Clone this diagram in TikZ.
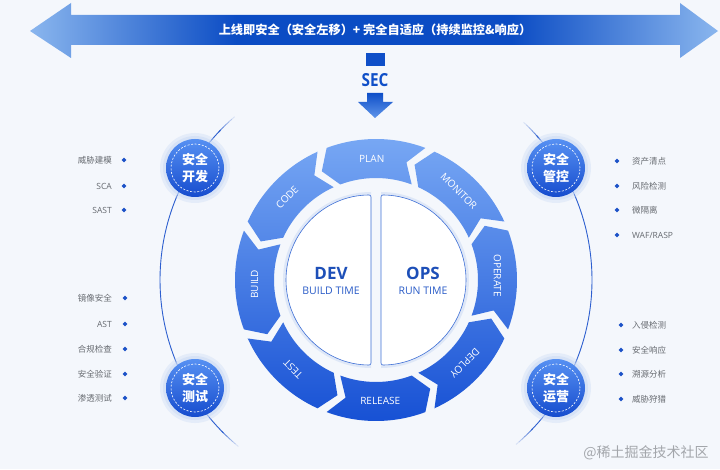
\documentclass[tikz,border=0pt]{standalone}
\usepackage{fontspec}
\setmainfont{Open Sans}
\newfontfamily\cjk{Noto Sans CJK SC}
\usetikzlibrary{shapes.geometric}
\definecolor{bg}{HTML}{F4F7FC}
\definecolor{al}{HTML}{8AB6EE}
\definecolor{ad}{HTML}{0B4CC4}
\definecolor{secblue}{HTML}{0F4FC8}
\definecolor{seclight}{HTML}{5F95EA}
\definecolor{ringtop}{HTML}{78A8F4}
\definecolor{ringbot}{HTML}{1650D4}
\definecolor{discline}{HTML}{3E6FD6}
\definecolor{devblue}{HTML}{1D4FB8}
\definecolor{timeblue}{HTML}{2A5CC8}
\definecolor{arcblue}{HTML}{2D5FCF}
\definecolor{ctop}{HTML}{5690F2}
\definecolor{cbot}{HTML}{164CCE}
\definecolor{halo}{HTML}{C9D9F4}
\definecolor{itemgray}{HTML}{666A70}
\definecolor{dia}{HTML}{1C52C8}
\definecolor{wmgray}{HTML}{A3A6AB}
\pgfdeclarehorizontalshading{toparrow}{100bp}{color(0bp)=(al); color(25bp)=(al); color(40bp)=(ad); color(60bp)=(ad); color(75bp)=(al); color(100bp)=(al)}
\tikzset{
  seglabel/.style={text=white, font=\fontsize{10}{10}\selectfont, inner sep=0pt},
  bigword/.style={text=devblue, font=\bfseries\fontsize{17}{17}\selectfont, inner sep=0pt},
  timeword/.style={text=timeblue, font=\fontsize{10.5}{10.5}\selectfont, inner sep=0pt},
  halfdisc/.style={fill=white, draw=discline, line width=0.6pt, rounded corners=2pt},
  sidecircle/.style={circle, minimum size=58pt, inner sep=0pt, top color=ctop, bottom color=cbot,
     text=white, font=\cjk\bfseries\fontsize{13}{17}\selectfont, align=center},
  dashring/.style={draw=white, line width=0.6pt, dash pattern=on 2pt off 1.6pt},
  litem/.style={text=itemgray, font=\fontsize{8.5}{8.5}\selectfont, inner sep=0pt},
  litemc/.style={text=itemgray, font=\cjk\fontsize{8.5}{8.5}\selectfont, inner sep=0pt},
  bullet/.style={diamond, fill=dia, inner sep=0pt, minimum size=5pt},
  sidearc/.style={draw=arcblue, line width=0.9pt},
}
\begin{document}
\begin{tikzpicture}[x=1pt,y=1pt]
\fill[bg] (0,0) rectangle (720,469);
\useasboundingbox (0,0) rectangle (720,469);

% top double arrow
\shade[shading=toparrow] (30,438) -- (71,466) -- (71,454) -- (680,454) -- (680,466) -- (718,438)
  -- (680,411) -- (680,424) -- (71,424) -- (71,411) -- cycle;
\node[text=white, font=\cjk\bfseries\fontsize{12.2}{12.2}\selectfont, inner sep=0pt] (banner) at (375,439)
  {上线即安全（安全左移）+ 完全自适应（持续监控\&响应）};

% SEC marker
\fill[secblue] (366,403) rectangle (385,416);
\node[text=secblue, font=\bfseries\fontsize{18}{18}\selectfont, inner sep=0pt, xscale=0.85] (sec) at (375,389) {SEC};
\shade[top color=secblue, bottom color=seclight] (367,376) -- (383,376) -- (383,367) -- (393,367)
  -- (375,351) -- (358,367) -- (367,367) -- cycle;

% side arcs
\begin{scope}[shift={(376,189)}]
  \draw[sidearc] (136:216) arc[start angle=136, end angle=225, radius=216];
  \draw[sidearc] (42:216) arc[start angle=42, end angle=-44, radius=216];
  \foreach \i in {0,...,5}{
    \pgfmathsetmacro\op{(\i+1)/7}
    \draw[sidearc, opacity=\op] ({130.9+\i}:216) arc[start angle={130.9+\i}, end angle={131.9+\i}, radius=216];
    \draw[sidearc, opacity=\op] ({230.4-\i}:216) arc[start angle={230.4-\i}, end angle={229.4-\i}, radius=216];
    \draw[sidearc, opacity=\op] ({46.9-\i}:216) arc[start angle={46.9-\i}, end angle={45.9-\i}, radius=216];
    \draw[sidearc, opacity=\op] ({-49.6+\i}:216) arc[start angle={-49.6+\i}, end angle={-48.6+\i}, radius=216];
  }
\end{scope}

% ring segments
\begin{scope}[shift={(376,189)}]
  \shade[top color=ringtop, bottom color=ringbot]
  \foreach \c [evaluate=\c as \ta using \c-20.5, evaluate=\c as \hb using \c+20.5,
               evaluate=\c as \pt using \c+26.5, evaluate=\c as \nt using \c-14.5] in {90,45,0,-45,-90,-135,180,135}
  { (\ta:141) arc[start angle=\ta, end angle=\hb, radius=141] -- (\pt:121.5) -- (\hb:102)
    arc[start angle=\hb, end angle=\ta, radius=102] -- (\nt:121.5) -- cycle };
  \node[seglabel] (plan) at (92:121.5) {PLAN};
  \node[seglabel, rotate=-45] (monitor) at (47:121.5) {MONITOR};
  \node[seglabel, rotate=-90] (operate) at (2:121.5) {OPERATE};
  \node[seglabel, rotate=-135] (deploy) at (-43:121.5) {DEPLOY};
  \node[seglabel] (release) at (-88:121.5) {RELEASE};
  \node[seglabel, rotate=135] (test) at (-133:121.5) {TEST};
  \node[seglabel, rotate=90] (build) at (182:121.5) {BUILD};
  \node[seglabel, rotate=45] (code) at (137:121.5) {CODE};

  % centre halves
  \fill[halo, opacity=0.5] (-5,88) arc[start angle=90, end angle=270, radius=88] -- cycle;
  \fill[halo, opacity=0.5] (5,-88) arc[start angle=-90, end angle=90, radius=88] -- cycle;
  \filldraw[halfdisc] (-5,85) arc[start angle=90, end angle=270, radius=85] -- cycle;
  \filldraw[halfdisc] (5,-85) arc[start angle=-90, end angle=90, radius=85] -- cycle;
  \node[bigword] (dev) at (-45,7) {DEV};
  \node[timeword] (bt) at (-45,-11) {BUILD TIME};
  \node[bigword] (ops) at (47,7) {OPS};
  \node[timeword] (rt) at (47,-11) {RUN TIME};
\end{scope}

% side circles
\coordinate (pkf) at (195,301);
\coordinate (pcs) at (195,81);
\coordinate (pgk) at (556,301);
\coordinate (pyy) at (556,81);
\foreach \p in {pkf,pcs,pgk,pyy}{
  \fill[halo, opacity=0.35] (\p) circle (35);
  \fill[halo, opacity=0.5] (\p) circle (32);
}
\node[sidecircle] (kaifa) at (pkf) {安全\\开发};
\node[sidecircle] (ceshi) at (pcs) {安全\\测试};
\node[sidecircle] (guankong) at (pgk) {安全\\管控};
\node[sidecircle] (yunying) at (pyy) {安全\\运营};
\draw[dashring] (kaifa.center) circle (24);
\draw[dashring] (ceshi.center) circle (24);
\draw[dashring] (guankong.center) circle (24);
\draw[dashring] (yunying.center) circle (24);

% left top list
\node[litemc, anchor=east] (a1) at (112,309) {威胁建模};
\node[litem, anchor=east] (a2) at (112,283) {SCA};
\node[litem, anchor=east] (a3) at (112,259) {SAST};
\node[bullet] (ba1) at (124,309) {};
\node[bullet] (ba2) at (124,283) {};
\node[bullet] (ba3) at (124,259) {};

% left bottom list
\node[litemc, anchor=east] (b1) at (112,171) {镜像安全};
\node[litem, anchor=east] (b2) at (112,145) {AST};
\node[litemc, anchor=east] (b3) at (112,120) {合规检查};
\node[litemc, anchor=east] (b4) at (112,95) {安全验证};
\node[litemc, anchor=east] (b5) at (112,71) {渗透测试};
\node[bullet] (bb1) at (125,171) {};
\node[bullet] (bb2) at (125,145) {};
\node[bullet] (bb3) at (125,120) {};
\node[bullet] (bb4) at (125,95) {};
\node[bullet] (bb5) at (125,71) {};

% right top list
\node[litemc, anchor=west] (c1) at (632,308) {资产清点};
\node[litemc, anchor=west] (c2) at (632,283) {风险检测};
\node[litemc, anchor=west] (c3) at (632,259) {微隔离};
\node[litem, anchor=west] (c4) at (632,234) {WAF/RASP};
\node[bullet] (bc1) at (617,308) {};
\node[bullet] (bc2) at (617,283) {};
\node[bullet] (bc3) at (617,259) {};
\node[bullet] (bc4) at (617,234) {};

% right bottom list
\node[litemc, anchor=west] (d1) at (632,144) {入侵检测};
\node[litemc, anchor=west] (d2) at (632,119) {安全响应};
\node[litemc, anchor=west] (d3) at (632,95) {溯源分析};
\node[litemc, anchor=west] (d4) at (632,70) {威胁狩猎};
\node[bullet] (bd1) at (621,144) {};
\node[bullet] (bd2) at (621,119) {};
\node[bullet] (bd3) at (621,95) {};
\node[bullet] (bd4) at (621,70) {};

% watermark
\node[text=wmgray, font=\cjk\fontsize{14}{14}\selectfont, inner sep=0pt] (wm) at (646,16) {@稀土掘金技术社区};
\end{tikzpicture}
\end{document}
